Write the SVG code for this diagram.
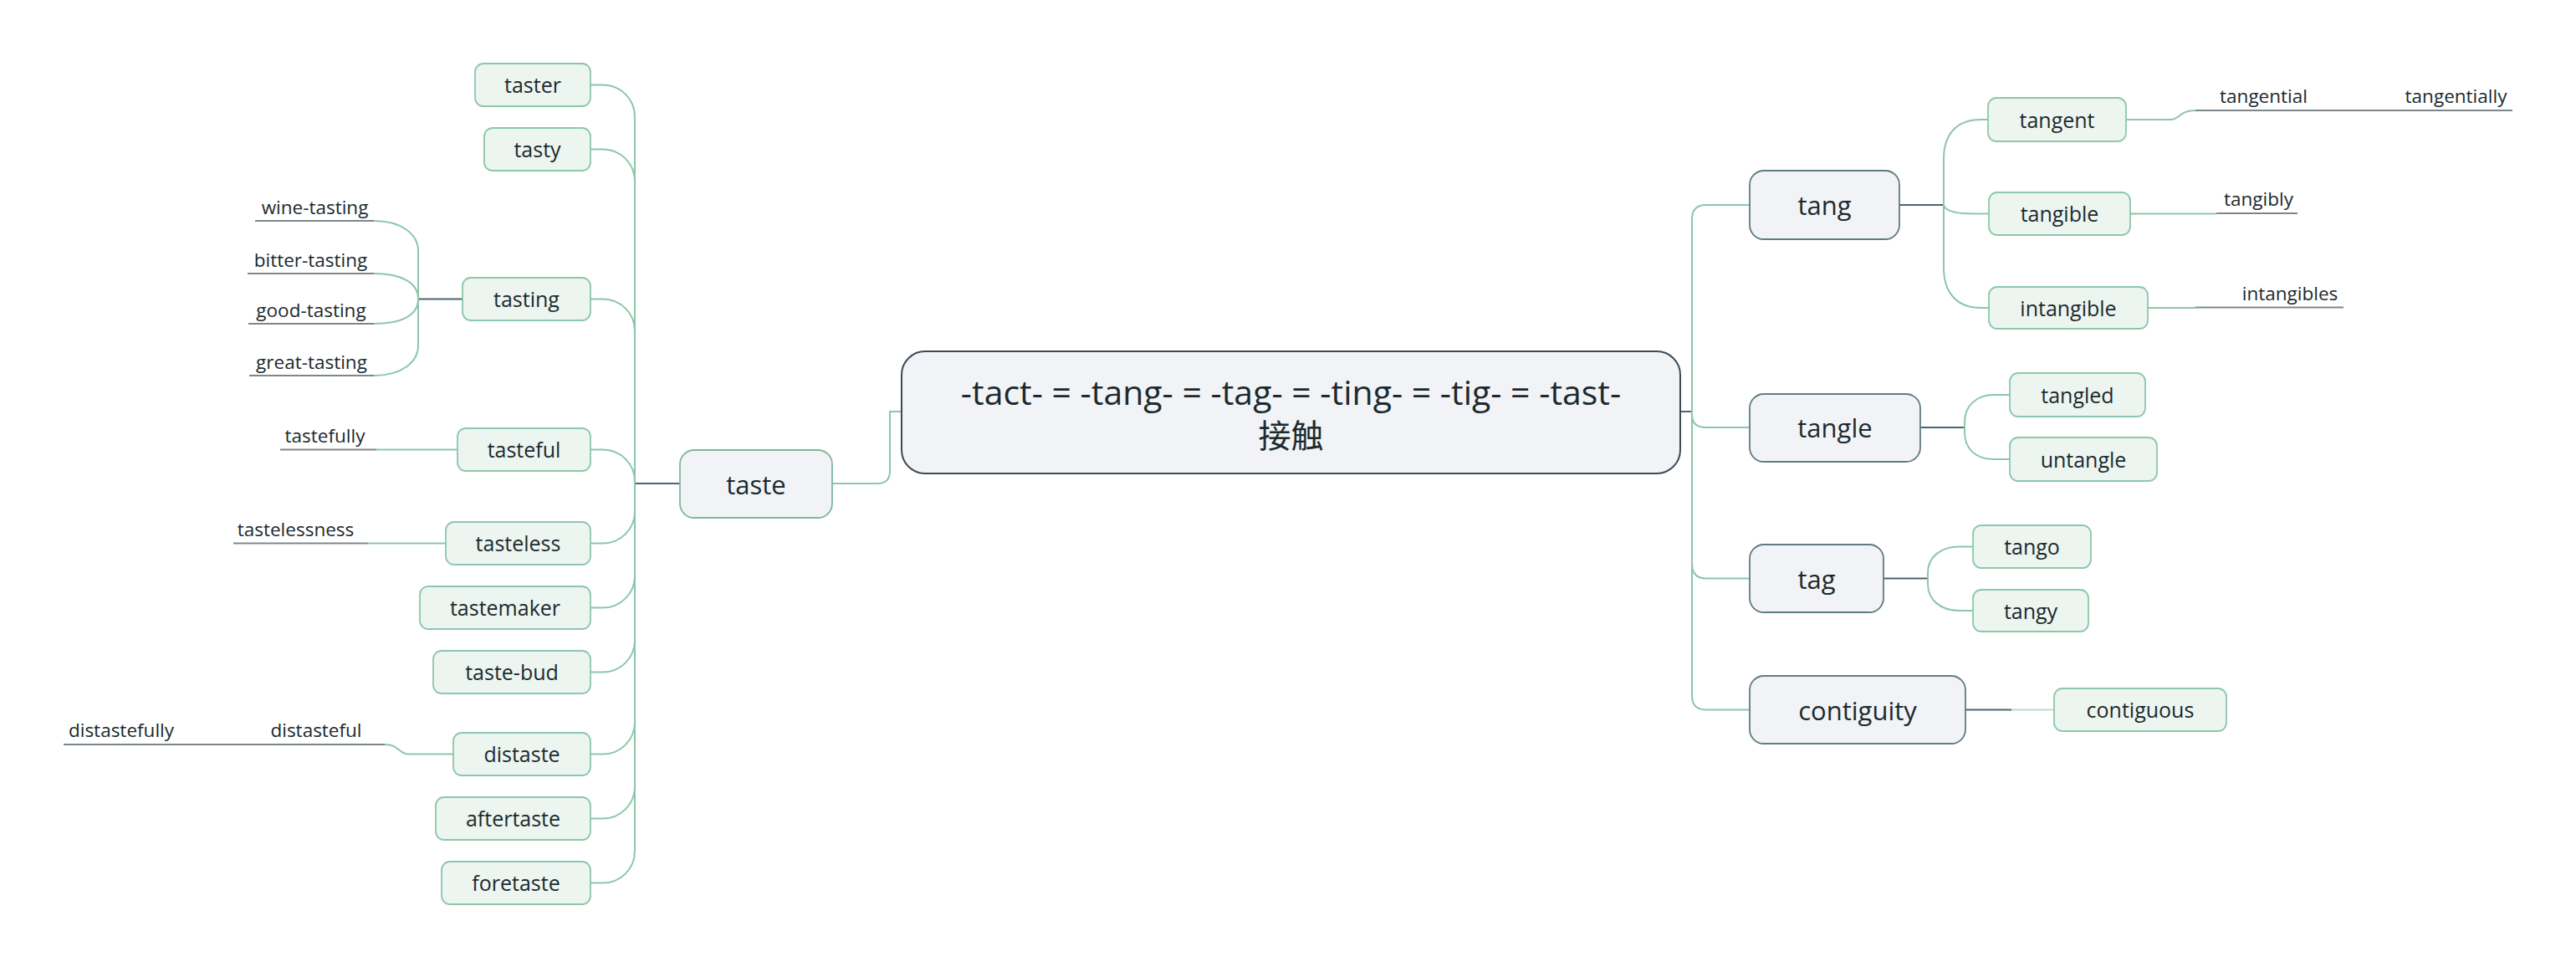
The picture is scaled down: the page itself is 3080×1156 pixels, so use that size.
<svg xmlns="http://www.w3.org/2000/svg" width="3080" height="1156" viewBox="0 0 3080 1156">
<style>
text{font-family:"Open Sans","Noto Sans CJK SC",sans-serif;fill:#1c2a2e;text-anchor:middle}
.c0 rect{fill:#f1f3f6;stroke:#3b4b56;stroke-width:2}
.c0 text{font-size:41px}
.c0 text.zh{font-size:39px}
.l1 rect{fill:#f1f3f6;stroke:#5f7c82;stroke-width:1.8}
.l1g rect{stroke:#80b79c}
.l1 text{font-size:31px}
.l2 rect{fill:#ecf5f0;stroke:#8dc7ab;stroke-width:1.8}
.l2 text{font-size:25px}
.lb text{font-size:22.5px}
.g{fill:none;stroke:#8cc6ab;stroke-width:2}
.d{fill:none;stroke:#4d6472;stroke-width:2}
.u{fill:none;stroke:#7d878b;stroke-width:2}
</style>
<rect width="3080" height="1156" fill="#ffffff"/>
<g id="connectors">
<path class="g" d="M1078 492 H1064 V563 Q1064 578 1049 578 H995"/>
<path class="d" d="M2009 492 H2023"/>
<path class="g" d="M2023 492 V262 Q2023 245 2040 245 H2092"/>
<path class="g" d="M2023 492 V496 Q2023 511 2040 511 H2092"/>
<path class="g" d="M2023 492 V674 Q2023 691.5 2040 691.5 H2092"/>
<path class="g" d="M2023 492 V832 Q2023 848.5 2040 848.5 H2092"/>
<path class="d" d="M813 578 H759"/>
<path class="g" d="M759 578 V139.5 C759 118.5 742 101.5 721 101.5 H706"/>
<path class="g" d="M759 578 V216.5 C759 195.5 742 178.5 721 178.5 H706"/>
<path class="g" d="M759 578 V395.5 C759 374.5 742 357.5 721 357.5 H706"/>
<path class="g" d="M759 578 V575.5 C759 554.5 742 537.5 721 537.5 H706"/>
<path class="g" d="M759 578 V611.5 C759 632.5 742 649.5 721 649.5 H706"/>
<path class="g" d="M759 578 V688.5 C759 709.5 742 726.5 721 726.5 H706"/>
<path class="g" d="M759 578 V765.5 C759 786.5 742 803.5 721 803.5 H706"/>
<path class="g" d="M759 578 V863.5 C759 884.5 742 901.5 721 901.5 H706"/>
<path class="g" d="M759 578 V940.5 C759 961.5 742 978.5 721 978.5 H706"/>
<path class="g" d="M759 578 V1017.5 C759 1038.5 742 1055.5 721 1055.5 H706"/>
<path class="d" d="M553 357.5 H500"/>
<path class="g" d="M500 357.5 V300 C500 280 480 264 447 264"/>
<path class="g" d="M500 357.5 C500 338 480 327 447 327"/>
<path class="g" d="M500 357.5 C500 377 480 387 447 387"/>
<path class="g" d="M500 357.5 V413 C500 433 480 449 447 449"/>
<path class="u" d="M305 264 H447"/>
<path class="u" d="M296 327 H447"/>
<path class="u" d="M297 387 H447"/>
<path class="u" d="M298 449 H447"/>
<path class="g" d="M547 537.5 H450"/>
<path class="u" d="M450 537.5 H335"/>
<path class="g" d="M533 649.5 H440"/>
<path class="u" d="M440 649.5 H279"/>
<path class="g" d="M542 901.5 H489 C476 901.5 478 890 460 890"/>
<path class="u" d="M460 890 H76"/>
<path class="d" d="M2271 245 H2324"/>
<path class="g" d="M2324 245 V190 C2324 160 2340 143 2368 143 H2377"/>
<path class="g" d="M2324 245 C2326 253 2340 255.5 2360 255.5 H2378"/>
<path class="g" d="M2324 245 V320 C2324 350 2340 368 2368 368 H2378"/>
<path class="g" d="M2542 143 H2595 C2607 143 2605 132 2625 132"/>
<path class="u" d="M2625 132 H3004"/>
<path class="g" d="M2547 255.5 H2650"/>
<path class="u" d="M2650 255 H2747"/>
<path class="g" d="M2568 368 H2625"/>
<path class="u" d="M2625 367.5 H2802"/>
<path class="d" d="M2296 511 H2349"/>
<path class="g" d="M2349 511 V505 C2349 486 2362 472 2384 472 H2403"/>
<path class="g" d="M2349 511 V517 C2349 536 2362 549 2384 549 H2403"/>
<path class="d" d="M2252 691.5 H2305"/>
<path class="g" d="M2305 691.5 V685 C2305 666 2320 653.5 2343 653.5 H2359"/>
<path class="g" d="M2305 691.5 V698 C2305 717 2320 730 2343 730 H2359"/>
<path class="d" d="M2350 848.5 H2405"/>
<path class="g" d="M2405 848.5 H2456" style="stroke:#bcdccc"/>
</g>

<g id="central" class="c0">
<rect x="1078" y="420" width="931" height="146" rx="28"/>
<text x="1543.5" y="484">-tact- = -tang- = -tag- = -ting- = -tig- = -tast-</text>
<text class="zh" x="1543.5" y="535">接触</text>
</g>

<g id="taste" class="l1 l1g"><rect x="813" y="538" width="182" height="81" rx="17"/><text x="904" y="590.5">taste</text></g>
<g id="tang" class="l1"><rect x="2092" y="204" width="179" height="82" rx="17"/><text x="2181.5" y="256.5">tang</text></g>
<g id="tangle" class="l1"><rect x="2092" y="471" width="204" height="81" rx="17"/><text x="2194" y="523">tangle</text></g>
<g id="tag" class="l1"><rect x="2092" y="651" width="160" height="81" rx="17"/><text x="2172" y="703.5">tag</text></g>
<g id="contiguity" class="l1"><rect x="2092" y="808" width="258" height="81" rx="17"/><text x="2221" y="860.5">contiguity</text></g>

<g id="taster" class="l2"><rect x="568" y="76" width="138" height="51" rx="10"/><text x="637" y="111">taster</text></g>
<g id="tasty" class="l2"><rect x="579" y="153" width="127" height="51" rx="10"/><text x="642.5" y="188">tasty</text></g>
<g id="tasting" class="l2"><rect x="553" y="332" width="153" height="51" rx="10"/><text x="629.5" y="367">tasting</text></g>
<g id="tasteful" class="l2"><rect x="547" y="512" width="159" height="51" rx="10"/><text x="626.5" y="547">tasteful</text></g>
<g id="tasteless" class="l2"><rect x="533" y="624" width="173" height="51" rx="10"/><text x="619.5" y="659">tasteless</text></g>
<g id="tastemaker" class="l2"><rect x="502" y="701" width="204" height="51" rx="10"/><text x="604" y="736">tastemaker</text></g>
<g id="taste-bud" class="l2"><rect x="518" y="778" width="188" height="51" rx="10"/><text x="612" y="813">taste-bud</text></g>
<g id="distaste" class="l2"><rect x="542" y="876" width="164" height="51" rx="10"/><text x="624" y="911">distaste</text></g>
<g id="aftertaste" class="l2"><rect x="521" y="953" width="185" height="51" rx="10"/><text x="613.5" y="988">aftertaste</text></g>
<g id="foretaste" class="l2"><rect x="528" y="1030" width="178" height="51" rx="10"/><text x="617" y="1065">foretaste</text></g>

<g id="tangent" class="l2"><rect x="2377" y="117" width="165" height="52" rx="10"/><text x="2459.5" y="152.5">tangent</text></g>
<g id="tangible" class="l2"><rect x="2378" y="230" width="169" height="51" rx="10"/><text x="2462.5" y="265">tangible</text></g>
<g id="intangible" class="l2"><rect x="2378" y="343" width="190" height="50" rx="10"/><text x="2473" y="377.5">intangible</text></g>
<g id="tangled" class="l2"><rect x="2403" y="446" width="162" height="52" rx="10"/><text x="2484" y="481.5">tangled</text></g>
<g id="untangle" class="l2"><rect x="2403" y="523" width="176" height="52" rx="10"/><text x="2491" y="558.5">untangle</text></g>
<g id="tango" class="l2"><rect x="2359" y="628" width="141" height="51" rx="10"/><text x="2429.5" y="663">tango</text></g>
<g id="tangy" class="l2"><rect x="2359" y="705" width="138" height="50" rx="10"/><text x="2428" y="739.5">tangy</text></g>
<g id="contiguous" class="l2"><rect x="2456" y="823" width="206" height="51" rx="10"/><text x="2559" y="858">contiguous</text></g>

<g id="wine-tasting" class="lb"><text x="376.5" y="256">wine-tasting</text></g>
<g id="bitter-tasting" class="lb"><text x="371.5" y="319">bitter-tasting</text></g>
<g id="good-tasting" class="lb"><text x="372" y="379">good-tasting</text></g>
<g id="great-tasting" class="lb"><text x="372.5" y="441">great-tasting</text></g>
<g id="tastefully" class="lb"><text x="388.5" y="529">tastefully</text></g>
<g id="tastelessness" class="lb"><text x="353.5" y="641">tastelessness</text></g>
<g id="distasteful" class="lb"><text x="378" y="881">distasteful</text></g>
<g id="distastefully" class="lb"><text x="145" y="881">distastefully</text></g>
<g id="tangential" class="lb"><text x="2706.5" y="123">tangential</text></g>
<g id="tangentially" class="lb"><text x="2936.5" y="123">tangentially</text></g>
<g id="tangibly" class="lb"><text x="2700.5" y="246">tangibly</text></g>
<g id="intangibles" class="lb"><text x="2738" y="359">intangibles</text></g>
</svg>
